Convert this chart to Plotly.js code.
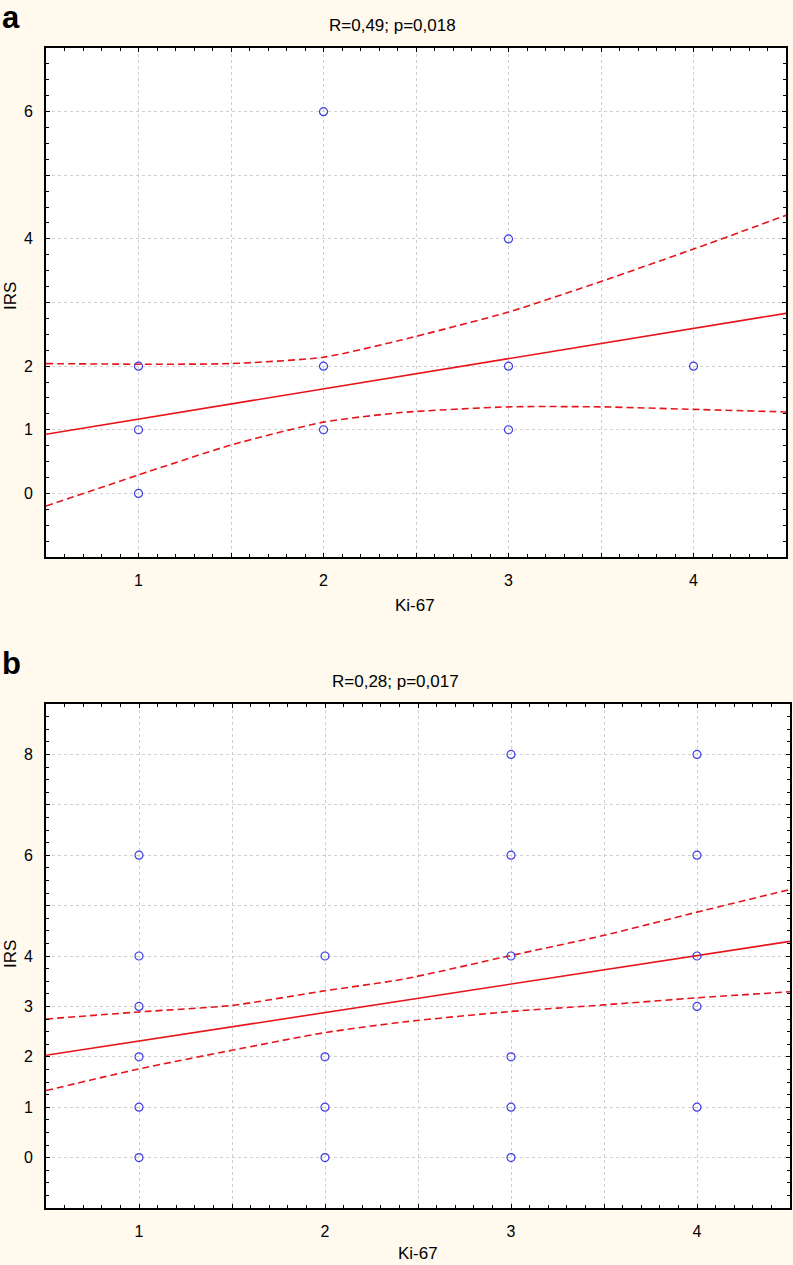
<!DOCTYPE html>
<html>
<head>
<meta charset="utf-8">
<script src="https://cdn.plot.ly/plotly-3.0.1.min.js"></script>
<style>
  html, body { margin: 0; padding: 0; background: #FFF9EE; }
  #chart { width: 793px; height: 1265px; }
</style>
</head>
<body>
<div id="chart"></div>
<script>
// ---------- Panel a data ----------
const aPointsX = [1, 1, 1, 2, 2, 2, 3, 3, 3, 4];
const aPointsY = [0, 1, 2, 1, 2, 6, 1, 2, 4, 2];
const aFitX = [0.5, 4.5];
const aFitY = [0.93, 2.83];
const aBandX = [0.5, 1, 1.5, 2, 2.42, 3, 3.5, 4, 4.5];
const aUpperY = [2.04, 2.03, 2.04, 2.14, 2.41, 2.85, 3.33, 3.84, 4.37];
const aLowerY = [-0.20, 0.29, 0.76, 1.12, 1.27, 1.36, 1.36, 1.32, 1.28];
const aTitle = "R=0,49; p=0,018";
const aYTickVals = [0, 1, 2, 3, 4, 5, 6, 7];
const aYTickText = ["0", "1", "2", "", "4", "", "6", ""];

// ---------- Panel b data ----------
const bPointsX = [1, 1, 1, 1, 1, 1, 2, 2, 2, 2, 3, 3, 3, 3, 3, 3, 4, 4, 4, 4, 4];
const bPointsY = [0, 1, 2, 3, 4, 6, 0, 1, 2, 4, 0, 1, 2, 4, 6, 8, 1, 3, 4, 6, 8];
const bFitX = [0.5, 4.5];
const bFitY = [2.03, 4.29];
const bBandX = [0.5, 1, 1.5, 2, 2.42, 3, 3.5, 4, 4.5];
const bUpperY = [2.75, 2.89, 3.02, 3.31, 3.54, 4.01, 4.41, 4.87, 5.32];
const bLowerY = [1.33, 1.76, 2.13, 2.48, 2.69, 2.90, 3.03, 3.17, 3.29];
const bTitle = "R=0,28; p=0,017";
const bYTickVals = [0, 1, 2, 3, 4, 5, 6, 7, 8, 9];
const bYTickText = ["0", "1", "2", "3", "4", "", "6", "", "8", ""];

// ---------- shared ----------
const xTickVals = [1, 1.5, 2, 2.5, 3, 3.5, 4];
const xTickText = ["1", "", "2", "", "3", "", "4"];
const xLabel = "Ki-67";
const yLabel = "IRS";
const panelLetters = ["a", "b"];

// ---------- layout helpers (pixels -> paper) ----------
const W = 793, H = 1265;
const px = v => v / W;
const py = v => 1 - v / H;

const FONT = "Liberation Sans, Arial, sans-serif";
const RED = "#E8141B";
const BLUE = "#3C3CE6";

function scatterTrace(x, y, xa, ya) {
  return { x, y, xaxis: xa, yaxis: ya, type: "scatter", mode: "markers",
    marker: { symbol: "circle-open", size: 8, color: BLUE, line: { width: 1.2, color: BLUE } },
    hoverinfo: "skip", showlegend: false, cliponaxis: false };
}
function lineTrace(x, y, xa, ya, dash) {
  return { x, y, xaxis: xa, yaxis: ya, type: "scatter", mode: "lines",
    line: { color: RED, width: 1.6, dash: dash, shape: dash === "solid" ? "linear" : "spline", smoothing: 0.6 },
    hoverinfo: "skip", showlegend: false };
}

const data = [
  lineTrace(aBandX, aUpperY, "x", "y", "7px,4px"),
  lineTrace(aBandX, aLowerY, "x", "y", "7px,4px"),
  lineTrace(aFitX, aFitY, "x", "y", "solid"),
  scatterTrace(aPointsX, aPointsY, "x", "y"),
  lineTrace(bBandX, bUpperY, "x2", "y2", "7px,4px"),
  lineTrace(bBandX, bLowerY, "x2", "y2", "7px,4px"),
  lineTrace(bFitX, bFitY, "x2", "y2", "solid"),
  scatterTrace(bPointsX, bPointsY, "x2", "y2"),
];

function xAxis(domain, anchor) {
  return {
    domain, anchor, range: [0.5, 4.5],
    tickmode: "array", tickvals: xTickVals, ticktext: xTickText,
    ticks: "inside", ticklen: 4, tickwidth: 1, tickcolor: "#000",
    minor: { tickmode: "linear", tick0: 0.5, dtick: 0.1, ticks: "inside", ticklen: 3, tickcolor: "#000", showgrid: false },
    showline: true, linecolor: "#000", linewidth: 2, mirror: "allticks",
    showgrid: true, gridcolor: "#CFCFCF", gridwidth: 1, griddash: "dot",
    zeroline: false, ticklabelstandoff: 8,
    tickfont: { family: FONT, size: 16, color: "#000" },
    fixedrange: true
  };
}
function yAxis(domain, anchor, range, vals, text) {
  return {
    domain, anchor, range,
    tickmode: "array", tickvals: vals, ticktext: text,
    ticks: "inside", ticklen: 4, tickwidth: 1, tickcolor: "#000",
    minor: { tickmode: "linear", tick0: 0, dtick: 0.25, ticks: "inside", ticklen: 3, tickcolor: "#000", showgrid: false },
    showline: true, linecolor: "#000", linewidth: 2, mirror: "allticks",
    showgrid: true, gridcolor: "#CFCFCF", gridwidth: 1, griddash: "dot",
    zeroline: false, ticklabelstandoff: 8,
    tickfont: { family: FONT, size: 16, color: "#000" },
    fixedrange: true
  };
}

function ann(text, x, y, size, extra) {
  return Object.assign({ text, x: px(x), y: py(y), xref: "paper", yref: "paper",
    showarrow: false, xanchor: "center", yanchor: "middle",
    font: { family: FONT, size, color: "#000" } }, extra || {});
}

const layout = {
  width: W, height: H,
  margin: { l: 0, r: 0, t: 0, b: 0 },
  paper_bgcolor: "#FFF9EE",
  plot_bgcolor: "#FFFFFF",
  showlegend: false,
  xaxis: xAxis([px(46), px(786)], "y"),
  yaxis: yAxis([py(557), py(48)], "x", [-1, 7], aYTickVals, aYTickText),
  xaxis2: xAxis([px(46), px(790)], "y2"),
  yaxis2: yAxis([py(1208), py(704)], "x2", [-1, 9], bYTickVals, bYTickText),
  annotations: [
    ann("<b>" + panelLetters[0] + "</b>", 11, 17, 31),
    ann(aTitle, 392, 26, 17),
    ann(xLabel, 415, 605, 17),
    ann(yLabel, 10, 296, 17, { textangle: -90 }),
    ann("<b>" + panelLetters[1] + "</b>", 11, 663, 31),
    ann(bTitle, 395, 681, 17),
    ann(xLabel, 418, 1253, 17),
    ann(yLabel, 10, 954, 17, { textangle: -90 }),
  ]
};

Plotly.newPlot("chart", data, layout, { displayModeBar: false, staticPlot: true });
</script>
</body>
</html>
